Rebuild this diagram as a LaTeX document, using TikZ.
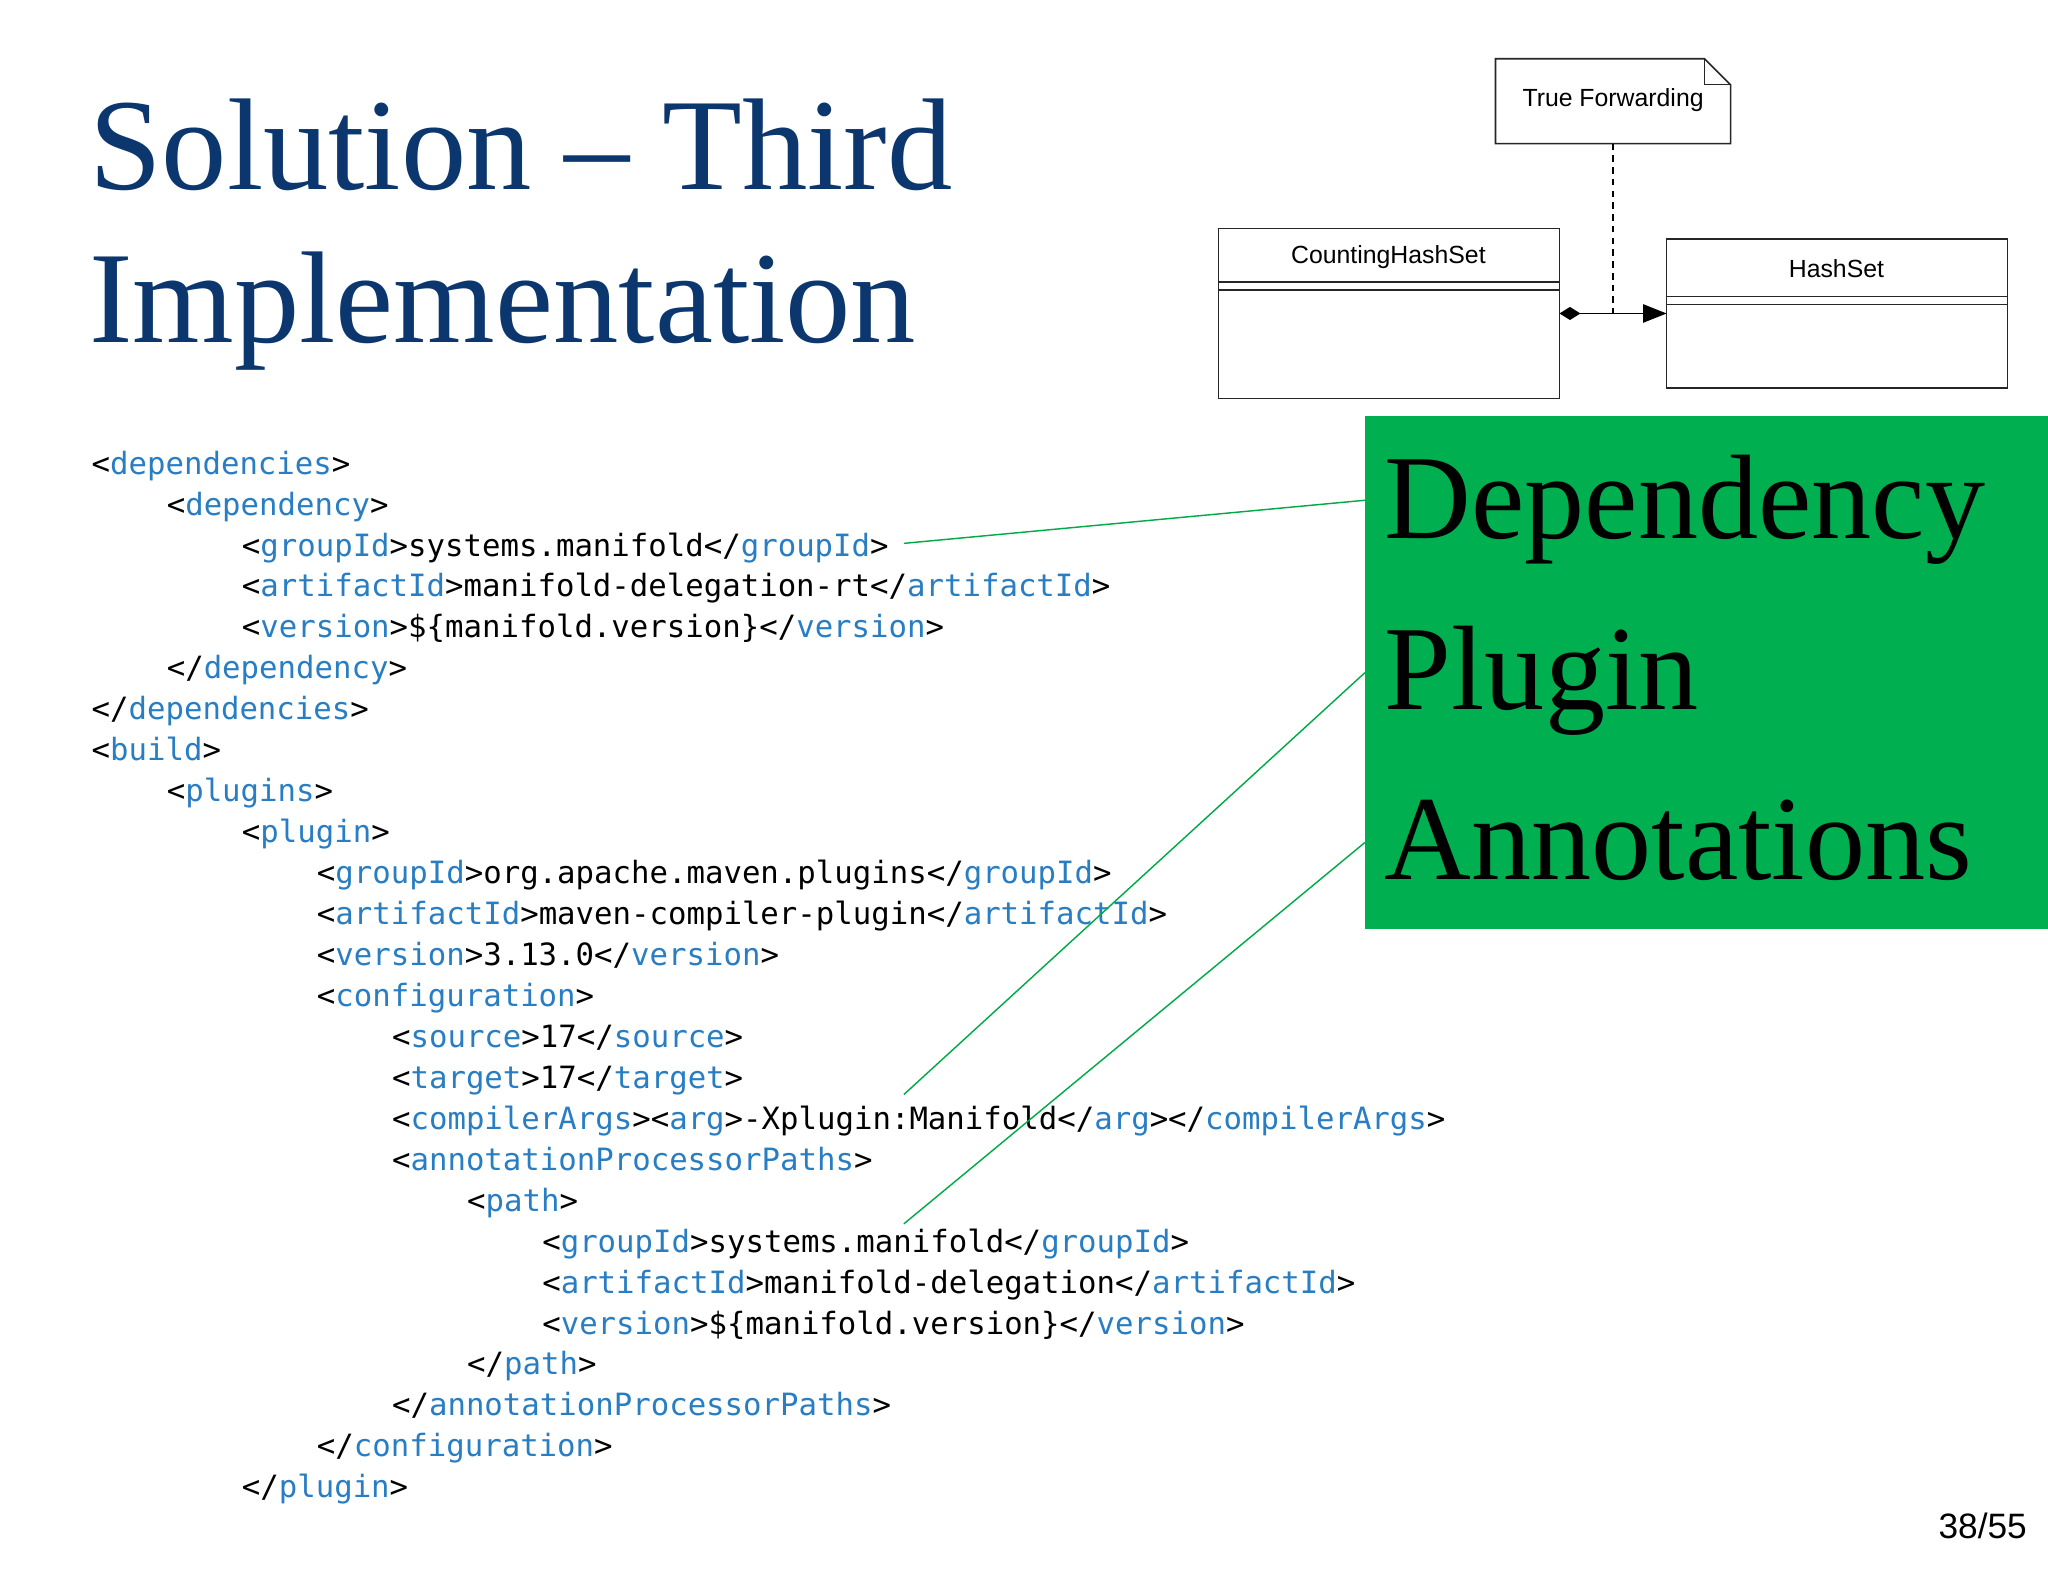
\documentclass[tikz,border=0pt]{standalone}
\usepackage{fontspec}
\setmainfont{Liberation Serif}
\newfontfamily\codefont{DejaVu Sans Mono}
\newfontfamily\umlfont{Liberation Sans}
\usetikzlibrary{arrows.meta}
\definecolor{tagblue}{RGB}{40,125,195}
\definecolor{titleblue}{RGB}{12,55,110}
\definecolor{boxgreen}{RGB}{0,176,80}
\definecolor{linegreen}{RGB}{0,170,70}
\newcommand\tg[1]{\textcolor{tagblue}{#1}}
\newcommand\el[2]{<\tg{#1}>#2</\tg{#1}>}
\begin{document}
\begin{tikzpicture}[x=1pt,y=1pt,
  code/.style={anchor=base west,inner sep=0pt,font=\codefont\fontsize{23.5}{28}\selectfont},
  umlbox/.style={draw=black!85,line width=1.2pt},
  umltext/.style={font=\umlfont\fontsize{19}{22}\selectfont,inner sep=0pt},
  glink/.style={draw=linegreen,line width=1.1pt}]
\useasboundingbox (0,0) rectangle (1568,-1211);
\fill[white] (0,0) rectangle (1568,-1211);
% title
\node[anchor=base west,inner sep=0pt,text=titleblue,font=\fontsize{100}{110}\selectfont] (t1) at (68,-145) {Solution -- Third};
\node[anchor=base west,inner sep=0pt,text=titleblue,font=\fontsize{100}{110}\selectfont] (t2) at (68,-262) {Implementation};
% code
\def\ind{57.5}
\foreach \k/\lv/\txt in {
 1/0/{<\tg{dependencies}>},
 2/1/{<\tg{dependency}>},
 3/2/{\el{groupId}{systems.manifold}},
 4/2/{\el{artifactId}{manifold-delegation-rt}},
 5/2/{\el{version}{\$\{manifold.version\}}},
 6/1/{</\tg{dependency}>},
 7/0/{</\tg{dependencies}>},
 8/0/{<\tg{build}>},
 9/1/{<\tg{plugins}>},
 10/2/{<\tg{plugin}>},
 11/3/{\el{groupId}{org.apache.maven.plugins}},
 12/3/{\el{artifactId}{maven-compiler-plugin}},
 13/3/{\el{version}{3.13.0}},
 14/3/{<\tg{configuration}>},
 15/4/{\el{source}{17}},
 16/4/{\el{target}{17}},
 17/4/{<\tg{compilerArgs}>\el{arg}{-Xplugin:Manifold}</\tg{compilerArgs}>},
 18/4/{<\tg{annotationProcessorPaths}>},
 19/5/{<\tg{path}>},
 20/6/{\el{groupId}{systems.manifold}},
 21/6/{\el{artifactId}{manifold-delegation}},
 22/6/{\el{version}{\$\{manifold.version\}}},
 23/5/{</\tg{path}>},
 24/4/{</\tg{annotationProcessorPaths}>},
 25/3/{</\tg{configuration}>},
 26/2/{</\tg{plugin}>}}
 {\node[code] (l\k) at ({70+\lv*\ind},{-363-(\k-1)*31.35}) {\txt};}
% green box
\node[fill=boxgreen,minimum width=523,minimum height=393,anchor=north west,inner sep=0pt] (gb) at (1045,-318) {};
\node[anchor=base west,inner sep=0pt,font=\fontsize{92}{100}\selectfont] (dep) at (1060,-412) {Dependency};
\node[anchor=base west,inner sep=0pt,font=\fontsize{92}{100}\selectfont] (plg) at (1060,-543) {Plugin};
\node[anchor=base west,inner sep=0pt,font=\fontsize{92}{100}\selectfont] (ann) at (1060,-673) {Annotations};
\coordinate (a1) at (692,-416);
\coordinate (a2) at (692,-838);
\coordinate (a3) at (692,-937);
\coordinate (b1) at (1045,-383);
\coordinate (b2) at (1045,-515);
\coordinate (b3) at (1045,-645);
\draw[glink] (a1) -- (b1);
\draw[glink] (a2) -- (b2);
\draw[glink] (a3) -- (b3);
% UML
\draw[umlbox] (1145,-45) -- (1305,-45) -- (1325,-65) -- (1325,-110) -- (1145,-110) -- cycle;
\draw[umlbox,line width=0.8pt] (1305,-45) -- (1305,-65) -- (1325,-65);
\node[umltext] (note) at (1235,-77) {True Forwarding};
\coordinate (nb) at (1235,-110);
\draw[umlbox] (933,-175) rectangle (1194,-305);
\draw[umlbox] (933,-216) -- (1194,-216) (933,-222) -- (1194,-222);
\node[umltext] (chs) at (1063,-197) {CountingHashSet};
\draw[umlbox] (1276,-183) rectangle (1537,-297);
\draw[umlbox] (1276,-227) -- (1537,-227) (1276,-233) -- (1537,-233);
\node[umltext] (hs) at (1406,-206) {HashSet};
\coordinate (cr) at (1194,-240);
\coordinate (hl) at (1276,-240);
\coordinate (mid) at (1235,-240);
\draw[line width=1.2pt,{Diamond[length=16pt,width=10pt]}-{Triangle[length=18pt,width=14pt]}] (cr) -- (hl);
\draw[line width=1pt,dashed,dash pattern=on 5pt off 4pt] (nb) -- (mid);
% page number
\node[anchor=base east,inner sep=0pt,font=\umlfont\fontsize{27}{30}\selectfont] (pg) at (1552,-1178) {38/55};
\end{tikzpicture}
\end{document}
